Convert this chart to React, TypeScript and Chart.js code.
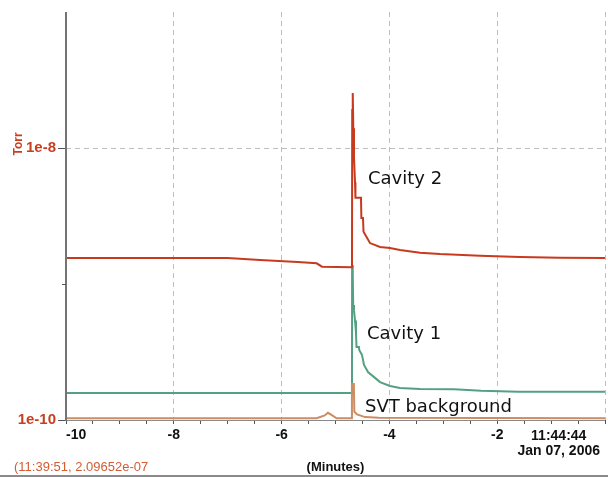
import React, { useEffect, useRef } from 'react';
import { Chart, registerables } from 'chart.js';

Chart.register(...registerables);

// ---- data (time in minutes relative to 11:44:44, pressure in Torr) ----
const cavity2Time = [-10, -7.0, -6.4, -5.7, -5.35, -5.25, -4.694, -4.69, -4.68, -4.67, -4.657, -4.638, -4.63, -4.527, -4.52, -4.49, -4.48, -4.36, -4.174, -3.989, -3.803, -3.432, -3.061, -2.319, -1.577, -0.835, 0];
const cavity2Torr = [1.55e-9, 1.55e-9, 1.5e-9, 1.45e-9, 1.42e-9, 1.34e-9, 1.33e-9, 1.9e-8, 2.54e-8, 1.4e-8, 8.5e-9, 5.6e-9, 4.3e-9, 4.3e-9, 3.06e-9, 3.06e-9, 2.42e-9, 2.0e-9, 1.87e-9, 1.84e-9, 1.78e-9, 1.7e-9, 1.66e-9, 1.61e-9, 1.58e-9, 1.56e-9, 1.55e-9];

const cavity1Time = [-10, -4.694, -4.692, -4.68, -4.672, -4.657, -4.638, -4.62, -4.61, -4.565, -4.56, -4.508, -4.471, -4.397, -4.267, -4.174, -3.989, -3.803, -3.432, -2.8, -2.3, -1.6, 0];
const cavity1Torr = [1.58e-10, 1.58e-10, 1.38e-9, 1.2e-9, 7.0e-10, 6.4e-10, 5.4e-10, 4.4e-10, 3.44e-10, 3.44e-10, 3.27e-10, 3.0e-10, 2.54e-10, 2.25e-10, 2.04e-10, 1.9e-10, 1.78e-10, 1.72e-10, 1.69e-10, 1.68e-10, 1.64e-10, 1.61e-10, 1.61e-10];

const svtTime = [-10, -5.35, -5.2, -5.14, -5.06, -4.98, -4.7, -4.695, -4.66, -4.65, -4.6, -4.45, -4.2, 0];
const svtTorr = [1.03e-10, 1.03e-10, 1.08e-10, 1.13e-10, 1.08e-10, 1.03e-10, 1.03e-10, 1.84e-10, 1.84e-10, 1.15e-10, 1.1e-10, 1.05e-10, 1.04e-10, 1.03e-10];

const xTickValues = [-10, -9.5, -9, -8.5, -8, -7.5, -7, -6.5, -6, -5.5, -5, -4.5, -4, -3.5, -3, -2.5, -2, -1.5, -1, -0.5, 0];
const xTickLabels = ['-10', '', '', '', '-8', '', '', '', '-6', '', '', '', '-4', '', '', '', '-2', '', '', '', ''];
const endTimeLabel = ['11:44:44', 'Jan 07, 2006'];

const yTickValues = [1e-10, 1e-9, 1e-8];
const yTickLabels = ['1e-10', '', '1e-8'];

const annotationTexts = ['Cavity 2', 'Cavity 1', 'SVT background'];
const annotationTime = [-4.397, -4.416, -4.453];
const annotationTorr = [5.44e-9, 3.94e-10, 1.145e-10];

const statusText = '(11:39:51, 2.09652e-07';
const xTitle = '(Minutes)';
const yTitle = 'Torr';

const RED = 'rgb(200,58,30)';
const GREEN = 'rgb(84,160,130)';
const TAN = 'rgb(204,140,100)';
const LABEL_RED = 'rgb(200,62,30)';
const FONT = '"Liberation Sans", Arial, sans-serif';

const textPlugin = {
  id: 'textPlugin',
  afterDraw(chart: any) {
    const { ctx, chartArea } = chart;
    const x = chart.scales.x;
    const y = chart.scales.y;
    ctx.save();

    // axis lines (solid)
    ctx.setLineDash([]);
    ctx.strokeStyle = '#8a8a8a';
    ctx.lineWidth = 1;
    ctx.beginPath();
    ctx.moveTo(chartArea.left, chartArea.bottom + 0.5);
    ctx.lineTo(chartArea.right, chartArea.bottom + 0.5);
    ctx.stroke();
    ctx.strokeStyle = '#747474';
    ctx.lineWidth = 2;
    ctx.beginPath();
    ctx.moveTo(chartArea.left, chartArea.top);
    ctx.lineTo(chartArea.left, chartArea.bottom + 1);
    ctx.stroke();

    // minor tick at 1e-9
    const y9 = Math.round(y.getPixelForValue(1e-9)) + 0.5;
    ctx.strokeStyle = '#555';
    ctx.lineWidth = 1;
    ctx.beginPath();
    ctx.moveTo(chartArea.left - 4, y9);
    ctx.lineTo(chartArea.left, y9);
    ctx.stroke();

    // y title
    ctx.save();
    ctx.translate(19, y.getPixelForValue(1e-8) - 4);
    ctx.rotate(-Math.PI / 2);
    ctx.fillStyle = LABEL_RED;
    ctx.font = 'bold 12px ' + FONT;
    ctx.textAlign = 'center';
    ctx.textBaseline = 'middle';
    ctx.fillText(yTitle, 0, 0);
    ctx.restore();

    // end time label
    ctx.font = 'bold 14px ' + FONT;
    ctx.fillStyle = '#111';
    ctx.textAlign = 'center';
    ctx.textBaseline = 'middle';
    const w = Math.max(...endTimeLabel.map((s) => ctx.measureText(s).width));
    const cx = x.getPixelForValue(0) - w / 2 - 5;
    ctx.fillText(endTimeLabel[0], cx, chartArea.bottom + 16);
    ctx.fillText(endTimeLabel[1], cx, chartArea.bottom + 31);

    // x title
    ctx.font = 'bold 13px ' + FONT;
    ctx.fillText(xTitle, (chartArea.left + chartArea.right) / 2, 467);

    // status text
    ctx.font = '13px ' + FONT;
    ctx.fillStyle = 'rgb(212,92,50)';
    ctx.textAlign = 'left';
    ctx.fillText(statusText, 14, 467);

    // bottom rule
    ctx.strokeStyle = '#8a8a8a';
    ctx.lineWidth = 2;
    ctx.beginPath();
    ctx.moveTo(0, 476);
    ctx.lineTo(608, 476);
    ctx.stroke();

    // annotations
    ctx.font = '18px "DejaVu Sans", sans-serif';
    ctx.fillStyle = '#111';
    ctx.textAlign = 'left';
    ctx.textBaseline = 'alphabetic';
    annotationTexts.forEach((t, i) => {
      ctx.fillText(t, x.getPixelForValue(annotationTime[i]), y.getPixelForValue(annotationTorr[i]));
    });

    ctx.restore();
  },
};

function series(times: number[], values: number[]) {
  return times.map((t, i) => ({ x: t, y: values[i] }));
}

export default function App() {
  const ref = useRef<HTMLCanvasElement | null>(null);

  useEffect(() => {
    if (!ref.current) return;
    const chart = new Chart(ref.current, {
      type: 'line',
      data: {
        datasets: [
          { label: 'SVT background', data: series(svtTime, svtTorr), borderColor: TAN, borderWidth: 2, pointRadius: 0, tension: 0 },
          { label: 'Cavity 2', data: series(cavity2Time, cavity2Torr), borderColor: RED, borderWidth: 2, pointRadius: 0, tension: 0 },
          { label: 'Cavity 1', data: series(cavity1Time, cavity1Torr), borderColor: GREEN, borderWidth: 2, pointRadius: 0, tension: 0 },
        ],
      },
      options: {
        animation: false,
        responsive: false,
        devicePixelRatio: 1,
        layout: { padding: { top: 12, right: 3, left: 0, bottom: 0 } },
        plugins: { legend: { display: false }, tooltip: { enabled: false } },
        scales: {
          x: {
            type: 'linear',
            min: -10,
            max: 0,
            afterBuildTicks: (scale: any) => {
              scale.ticks = xTickValues.map((v) => ({ value: v }));
            },
            afterFit: (scale: any) => {
              scale.height = 57;
            },
            ticks: {
              autoSkip: false,
              maxRotation: 0,
              align: 'inner',
              padding: 3,
              color: '#111',
              font: { family: FONT, size: 14, weight: 'bold' },
              callback: (_v: any, i: number) => xTickLabels[i],
            },
            grid: {
              color: (c: any) => (c.index > 0 && (xTickLabels[c.index] !== '' || c.index === xTickValues.length - 1) ? '#bdbdbd' : 'rgba(0,0,0,0)'),
              tickColor: '#555',
              tickLength: 4,
              lineWidth: 1,
            },
            border: { display: false, dash: [5, 4] },
          },
          y: {
            type: 'logarithmic',
            min: 1e-10,
            max: 1e-7,
            afterBuildTicks: (scale: any) => {
              scale.ticks = yTickValues.map((v) => ({ value: v }));
            },
            afterFit: (scale: any) => {
              scale.width = 66;
            },
            ticks: {
              autoSkip: false,
              padding: 2,
              color: LABEL_RED,
              font: { family: FONT, size: 15, weight: 'bold' },
              callback: (_v: any, i: number) => yTickLabels[i],
            },
            grid: {
              color: (c: any) => (c.tick && Math.abs(Math.log10(c.tick.value) + 8) < 1e-6 ? '#bdbdbd' : 'rgba(0,0,0,0)'),
              tickColor: (c: any) => (c.tick && Math.abs(Math.log10(c.tick.value) + 9) < 1e-6 ? 'rgba(0,0,0,0)' : '#555'),
              tickLength: 8,
              lineWidth: 1,
            },
            border: { display: false, dash: [5, 4] },
          },
        },
      } as any,
      plugins: [textPlugin],
    });
    return () => chart.destroy();
  }, []);

  return (
    <div style={{ position: 'fixed', left: 0, top: 0, width: 608, height: 477, background: '#fff' }}>
      <canvas ref={ref} width={608} height={477} style={{ display: 'block' }} />
    </div>
  );
}
